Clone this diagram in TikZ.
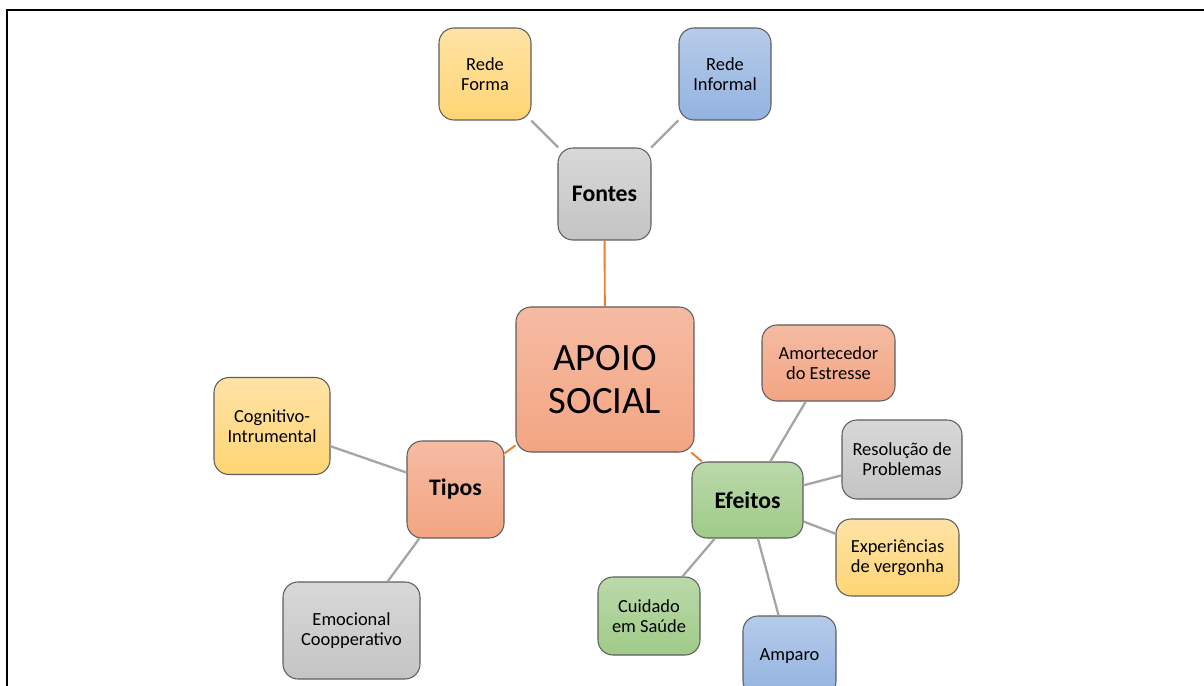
\documentclass[tikz,border=0pt]{standalone}
\usepackage{fontspec}
\setmainfont{Carlito}
\usepackage{xcolor}
\usepackage{tikz}
\definecolor{boxline}{HTML}{5E5E5E}
\definecolor{linkgray}{HTML}{A5A5A5}
\definecolor{linkorange}{HTML}{ED7D31}
\definecolor{orangetop}{HTML}{F5BBA3}
\definecolor{orangebot}{HTML}{F3A582}
\definecolor{yellowtop}{HTML}{FFE3A6}
\definecolor{yellowbot}{HTML}{FFD573}
\definecolor{bluetop}{HTML}{B6CBEA}
\definecolor{bluebot}{HTML}{93B3E0}
\definecolor{graytop}{HTML}{D8D8D8}
\definecolor{graybot}{HTML}{C4C4C4}
\definecolor{greentop}{HTML}{BAD9AA}
\definecolor{greenbot}{HTML}{A0CB88}

\begin{document}
\begin{tikzpicture}[
    mapbox/.style={draw=boxline,line width=0.6pt,rounded corners=0.3cm,align=center,inner sep=2pt,
      font=\fontsize{10.5}{11.5}\selectfont},
    hubbox/.style={mapbox,font=\fontsize{13.5}{15}\selectfont\bfseries},
    orangefill/.style={top color=orangetop,bottom color=orangebot},
    yellowfill/.style={top color=yellowtop,bottom color=yellowbot},
    bluefill/.style={top color=bluetop,bottom color=bluebot},
    grayfill/.style={top color=graytop,bottom color=graybot},
    greenfill/.style={top color=greentop,bottom color=greenbot},
    graylink/.style={draw=linkgray,line width=1.3pt},
    orangelink/.style={draw=linkorange,line width=1.1pt}
  ]
    \useasboundingbox (0,0) rectangle (24.08,-13.72);
    \draw[line width=1.2pt] (0.14,-13.72) -- (0.14,-0.2) -- (24.08,-0.2);

    % centre
    \node[mapbox,orangefill,minimum width=3.56cm,minimum height=2.9cm,font=\fontsize{22}{24}\selectfont]
      (apoio) at (12.1,-7.59) {APOIO\\SOCIAL};

    % fontes
    \node[hubbox,grayfill,minimum width=1.86cm,minimum height=1.84cm] (fontes) at (12.09,-3.88) {Fontes};
    \node[mapbox,yellowfill,minimum width=1.84cm,minimum height=1.84cm] (forma) at (9.7,-1.48) {Rede\\Forma};
    \node[mapbox,bluefill,minimum width=1.84cm,minimum height=1.84cm] (informal) at (14.5,-1.48) {Rede\\Informal};

    % tipos
    \node[hubbox,orangefill,minimum width=1.94cm,minimum height=1.94cm] (tipos) at (9.11,-9.79) {Tipos};
    \node[mapbox,yellowfill,minimum width=2.32cm,minimum height=1.94cm] (cognitivo) at (5.44,-8.52) {Cognitivo-\\Intrumental};
    \node[mapbox,grayfill,minimum width=2.74cm,minimum height=1.94cm] (emocional) at (7.03,-12.61) {Emocional\\Coopperativo};

    % efeitos
    \node[hubbox,greenfill,minimum width=2.22cm,minimum height=1.52cm] (efeitos) at (14.95,-10) {Efeitos};
    \node[mapbox,orangefill,minimum width=2.66cm,minimum height=1.52cm] (amortecedor) at (16.57,-7.26) {Amortecedor\\do Estresse};
    \node[mapbox,grayfill,minimum width=2.4cm,minimum height=1.58cm] (resolucao) at (18.04,-9.19) {Resolução de\\Problemas};
    \node[mapbox,yellowfill,minimum width=2.46cm,minimum height=1.54cm] (experiencias) at (17.95,-11.15) {Experiências\\de vergonha};
    \node[mapbox,greenfill,minimum width=2.04cm,minimum height=1.56cm] (cuidado) at (12.98,-12.32) {Cuidado\\em Saúde};
    \node[mapbox,bluefill,minimum width=1.86cm,minimum height=1.6cm] (amparo) at (15.79,-13.12) {Amparo};

    \draw[orangelink] (apoio) -- (fontes);
    \draw[orangelink] (apoio) -- (tipos);
    \draw[orangelink] (apoio) -- (efeitos);
    \foreach \leaf in {forma,informal}
      \draw[graylink] (fontes) -- (\leaf);
    \foreach \leaf in {cognitivo,emocional}
      \draw[graylink] (tipos) -- (\leaf);
    \foreach \leaf in {amortecedor,resolucao,experiencias,cuidado,amparo}
      \draw[graylink] (efeitos) -- (\leaf);
  \end{tikzpicture}
\end{document}
